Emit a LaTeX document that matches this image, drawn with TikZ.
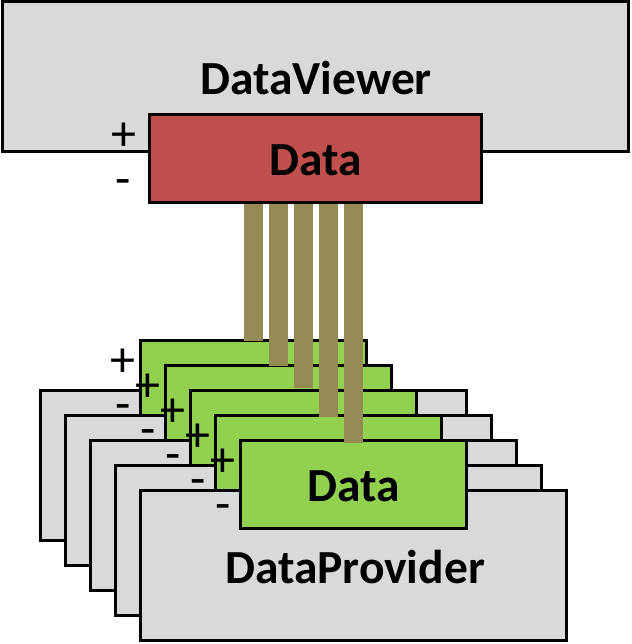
\documentclass[tikz,border=0pt]{standalone}
\usepackage{fontspec}
\setmainfont{Carlito}
\definecolor{boxgrey}{HTML}{D9D9D9}
\definecolor{boxgreen}{HTML}{92D050}
\definecolor{boxred}{HTML}{C0504D}
\definecolor{barolive}{HTML}{948A54}
\begin{document}
\begin{tikzpicture}[x=1pt,y=-1pt,
  boxbase/.style={draw=black, line width=3pt, inner sep=0pt, outer sep=0pt, anchor=north west},
  viewerbox/.style={boxbase, fill=boxgrey, minimum width=626pt, minimum height=150pt},
  providerbox/.style={boxbase, fill=boxgrey, minimum width=426pt, minimum height=150pt},
  databox/.style={boxbase, minimum width=226pt, minimum height=88pt},
  title/.style={font=\fontsize{47.5}{50}\selectfont\bfseries, inner sep=0pt, anchor=base},
  sign/.style={font=\fontsize{50}{50}\selectfont, inner sep=0pt, anchor=center},
  bar/.style={draw=barolive, line width=19pt, line cap=butt}
]
\useasboundingbox (0,0) rectangle (631,644);

% top: viewer
\node[viewerbox] (viewer) at (2,2) {};
\node[title] (viewertext) at (316,95) {DataViewer};
\node[databox, fill=boxred, minimum width=332pt] (red) at (149,115) {};
\node[title] (redtext) at (316,176) {Data};
\node[sign] (redplus) at (123.5,137) {+};
\node[sign] (redminus) at (123.5,188) {-};

% stacked providers
\foreach \i in {0,...,4}{
  \node[providerbox] (prov\i) at ({40+25*\i},{390+25*\i}) {};
  \node[databox, fill=boxgreen] (green\i) at ({140+25*\i},{340+25*\i}) {};
  \node[sign] (plus\i) at ({122.5+25*\i},{362.5+25*\i}) {+};
  \node[sign] (minus\i) at ({123+25*\i},{413+25*\i}) {-};
}
\node[title] (greentext) at (354,501) {Data};
\node[title] (provtext) at (355,583) {DataProvider};

% bars
\coordinate (b0) at (253.5,341);
\coordinate (b1) at (278.5,366);
\coordinate (b2) at (303.5,388);
\coordinate (b3) at (328.5,417);
\coordinate (b4) at (353.5,443);
\foreach \i in {0,...,4}{
  \draw[bar] ([yshift=-1.5pt]b\i |- red.south) -- (b\i);
}
\end{tikzpicture}
\end{document}
